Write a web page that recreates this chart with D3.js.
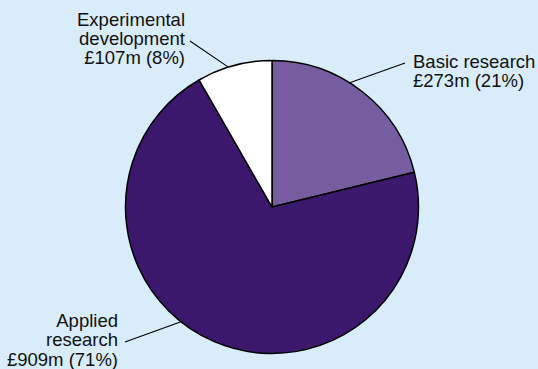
<!DOCTYPE html>
<html>
<head>
<meta charset="utf-8">
<script src="https://cdn.jsdelivr.net/npm/d3@7"></script>
<style>
  html, body { margin: 0; padding: 0; background: #d9ecfa; }
  svg { display: block; }
  text { font-family: "Liberation Sans", Arial, sans-serif; font-size: 18.5px; fill: #111; }
</style>
</head>
<body>
<svg id="chart" width="538" height="369"></svg>
<script>
// R&D spending by type of research
const categories = ["Basic research", "Applied research", "Experimental development"];
const values = [273, 909, 107];          // £ million
const percents = [21, 71, 8];
const colors = ["#765d9f", "#3c186c", "#ffffff"];

// Label text lines for each slice
const labelLines = [
  ["Basic research", "£273m (21%)"],
  ["Applied", "research", "£909m (71%)"],
  ["Experimental", "development", "£107m (8%)"]
];

const W = 538, H = 369;
const cx = 272, cy = 207, R = 146.5;

const svg = d3.select("#chart");
svg.append("rect").attr("width", W).attr("height", H).attr("fill", "#d9ecfa");

const pie = d3.pie().sort(null).value(d => d)(values);
const arc = d3.arc().innerRadius(0).outerRadius(R);

const g = svg.append("g").attr("transform", `translate(${cx},${cy})`);

g.selectAll("path.slice")
  .data(pie)
  .join("path")
  .attr("class", "slice")
  .attr("d", arc)
  .attr("fill", (d, i) => colors[i])
  .attr("stroke", "#000")
  .attr("stroke-width", 1.5)
  .attr("stroke-linejoin", "round");

// Leader line and text placement per slice:
// t = position along the slice's angle span where the leader meets the rim,
// end = leader end point, tx/ty = text anchor, anchor = text alignment
const labelLayout = [
  { t: 0.42, end: [405, 63], tx: 413, ty: 68, anchor: "start" },
  { t: 0.56, end: [125, 342], tx: 118, ty: 327, anchor: "end" },
  { t: 0.42, end: [190, 41], tx: 185, ty: 25.5, anchor: "end" }
];
const lineH = 19.3;

pie.forEach((d, i) => {
  const L = labelLayout[i];
  const a = d.startAngle + (d.endAngle - d.startAngle) * L.t;
  const px = cx + R * Math.sin(a), py = cy - R * Math.cos(a);
  svg.append("line")
    .attr("x1", px).attr("y1", py)
    .attr("x2", L.end[0]).attr("y2", L.end[1])
    .attr("stroke", "#000").attr("stroke-width", 1.1);

  const txt = svg.append("text")
    .attr("text-anchor", L.anchor);
  labelLines[i].forEach((s, k) => {
    txt.append("tspan")
      .attr("x", L.tx)
      .attr("y", L.ty + k * lineH)
      .text(s);
  });
});
</script>
</body>
</html>
